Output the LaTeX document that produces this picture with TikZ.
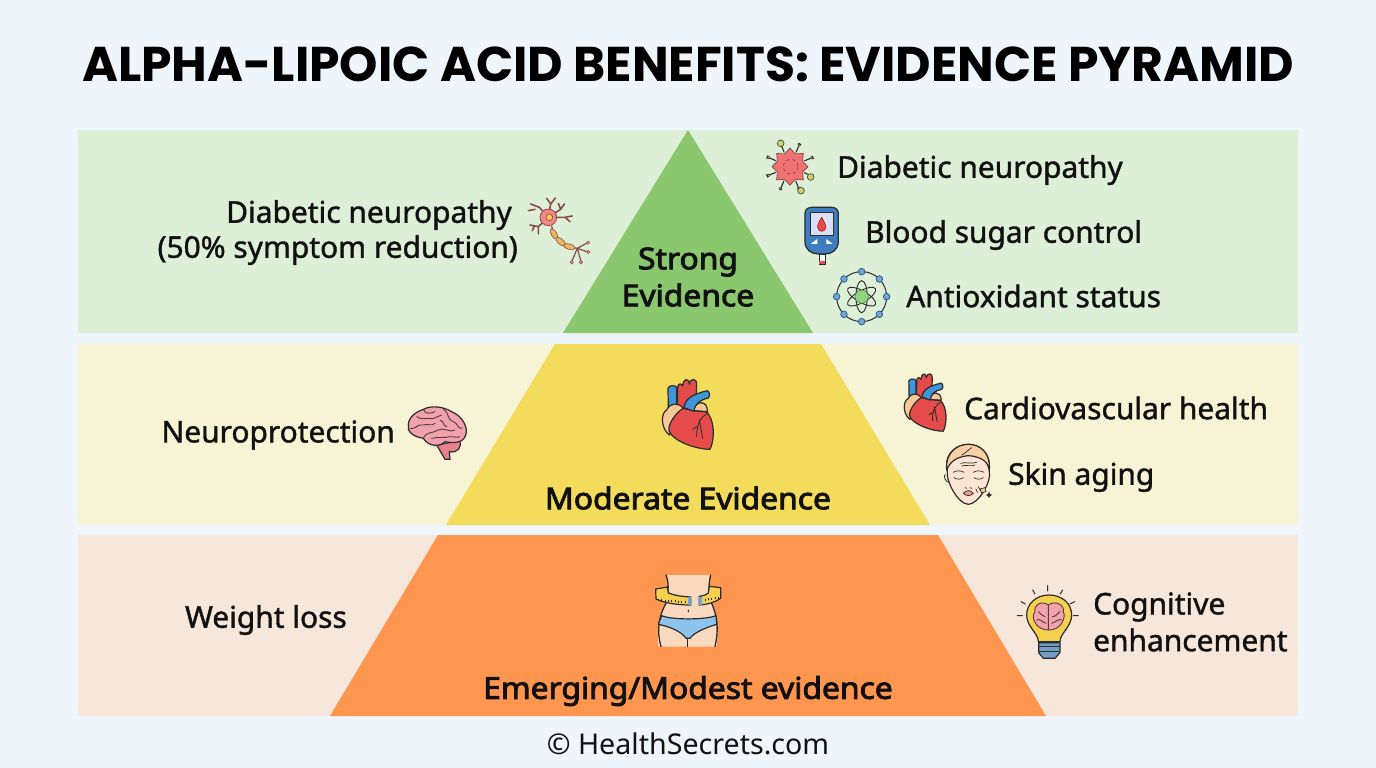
\documentclass[tikz,border=0pt]{standalone}
\usepackage{fontspec}
\setmainfont{Noto Sans}
\newfontfamily\medf[FakeBold=1.3]{Noto Sans}
\newfontfamily\tierf[FakeBold=3,FakeStretch=1.06]{Noto Sans}
\newfontfamily\titlef{Poppins}
\definecolor{pagebg}{HTML}{EEF5FB}
\definecolor{bandg}{HTML}{DDEFD6}
\definecolor{bandy}{HTML}{F6F4D4}
\definecolor{bandp}{HTML}{F7E6DA}
\definecolor{trig}{HTML}{8BC76F}
\definecolor{triy}{HTML}{F3DC5C}
\definecolor{trio}{HTML}{FF964F}
\definecolor{ink}{HTML}{111111}
\definecolor{icol}{HTML}{2B2B2B}
\definecolor{hred}{HTML}{E64B4B}
\definecolor{hblue}{HTML}{3F95D6}
\definecolor{hpeach}{HTML}{F8C796}
\definecolor{bpink}{HTML}{F2A2AC}
\definecolor{bdeep}{HTML}{E8808E}
\definecolor{skin}{HTML}{FBD9BF}
\definecolor{tapey}{HTML}{F5D04E}
\definecolor{pantb}{HTML}{8CC4EE}
\definecolor{cellr}{HTML}{F17272}
\definecolor{dotg}{HTML}{C9D36A}
\definecolor{nbrown}{HTML}{8A4A4A}
\definecolor{axon}{HTML}{EDB95C}
\definecolor{meter}{HTML}{3E7DBE}
\definecolor{atomb}{HTML}{6EA5D8}
\definecolor{atomg}{HTML}{8ED67A}
\tikzset{
  lbl/.style={font=\medf\fontsize{29.9}{34}\selectfont,text=ink,inner sep=0pt},
  tierlbl/.style={font=\tierf\fontsize{30}{34}\selectfont,text=ink,inner sep=0pt},
  ioutline/.style={draw=icol,line width=1.2pt,line join=round,line cap=round},
  zoomed/.style={x=0.3333pt,y=-0.3333pt}
}
\newcommand{\heartIcon}{%
  % coordinates in zoom units
  \draw[ioutline,fill=hred] (832,120) -- (833,52) .. controls (835,38) and (845,40) .. (848,48) .. controls (850,25) and (866,22) .. (868,42) .. controls (872,22) and (892,25) .. (890,45) -- (888,90) -- (860,120) -- cycle;
  \draw[ioutline,fill=hblue] (805,110) -- (804,55) .. controls (806,45) and (826,45) .. (830,52) -- (830,105) -- cycle;
  \draw[ioutline,fill=hpeach] (800,120) .. controls (782,130) and (782,175) .. (808,195) -- (850,115) .. controls (835,96) and (810,98) .. (800,120) -- cycle;
  \draw[ioutline,fill=hpeach] (880,122) .. controls (885,90) and (925,90) .. (922,125) -- cycle;
  \draw[ioutline,fill=hred] (850,115) .. controls (870,120) and (890,125) .. (918,125) .. controls (945,145) and (945,210) .. (930,238) .. controls (890,238) and (822,215) .. (808,185) .. controls (800,165) and (830,125) .. (850,115) -- cycle;
  \draw[ioutline,fill=hblue] (852,113) .. controls (855,85) and (880,72) .. (922,62) .. controls (930,65) and (930,80) .. (925,84) .. controls (900,90) and (885,100) .. (882,124) -- cycle;
  \draw[icol,line width=.8pt,line cap=round] (925,128) .. controls (905,140) and (890,155) .. (890,200) (898,150) -- (908,205) (890,170) -- (878,178);
}
\begin{document}
\begin{tikzpicture}[x=1pt,y=-1pt]
\useasboundingbox (0,0) rectangle (1376,768);
\fill[pagebg] (0,0) rectangle (1376,768);
% bands
\fill[bandg] (78,130) rectangle (1298,333);
\fill[bandy] (78,344) rectangle (1298,525);
\fill[bandp] (78,535) rectangle (1298,716);
% pyramid
\fill[trig] (688,130) -- (813,333) -- (563,333) -- cycle;
\fill[triy] (555,344) -- (821,344) -- (930,525) -- (446,525) -- cycle;
\fill[trio] (438,535) -- (938,535) -- (1046,716) -- (330,716) -- cycle;
% texts
\node[font=\titlef\bfseries\fontsize{48.8}{52}\selectfont,text=black,inner sep=0pt] (title) at (688,64) {ALPHA-LIPOIC ACID BENEFITS: EVIDENCE PYRAMID};
\node[lbl,anchor=east] (ldn1) at (512,215) {Diabetic neuropathy};
\node[lbl,anchor=east] (ldn2) at (518,250) {(50\% symptom reduction)};
\node[tierlbl] (se1) at (688,262) {Strong};
\node[tierlbl] (se2) at (688,295) {Evidence};
\node[lbl,anchor=west] (rdn) at (837,170) {Diabetic neuropathy};
\node[lbl,anchor=west] (rbs) at (865,235) {Blood sugar control};
\node[lbl,anchor=west] (ras) at (906,296) {Antioxidant status};
\node[lbl,anchor=east] (lnp) at (395,435) {Neuroprotection};
\node[tierlbl] (me) at (688,498) {Moderate Evidence};
\node[lbl,anchor=west] (rcv) at (964,408) {Cardiovascular health};
\node[lbl,anchor=west] (rsk) at (1008,477) {Skin aging};
\node[lbl,anchor=east] (lwl) at (347,620) {Weight loss};
\node[tierlbl] (ee) at (688,691) {Emerging/Modest evidence};
\node[lbl,anchor=west] (rce1) at (1093,607) {Cognitive};
\node[lbl,anchor=west] (rce2) at (1093,640) {enhancement};
\node[font=\fontsize{28.6}{32}\selectfont,text=ink,inner sep=0pt] (foot) at (688,744) {© HealthSecrets.com};
% ---- icons of the green tier (zoom 1 units)
\begin{scope}[shift={(520,130)},zoomed]
  % neuron
  \draw[nbrown,line width=1.6pt,line cap=round]
    (85,262) -- (58,232) (58,232) -- (32,222) (45,238) -- (25,242)
    (85,262) -- (92,222) (92,222) -- (80,205) (92,222) -- (106,204)
    (85,262) -- (122,238) (122,238) -- (115,220) (122,238) -- (133,222)
    (85,262) -- (135,262) (135,262) -- (157,258) (135,262) -- (150,275)
    (85,262) -- (55,290) (55,290) -- (30,285) (55,290) -- (55,312) (42,290) -- (37,302);
  \draw[nbrown,fill=cellr!85!white,line width=.8pt] (85,262) circle[radius=25];
  \draw[nbrown,fill=tapey,line width=.6pt] (88,262) circle[radius=10];
  \draw[nbrown,line width=1.2pt] (95,288) .. controls (100,320) and (130,350) .. (172,355);
  \foreach \a/\b/\r in {102/312/-60,122/335/-40,148/350/-15}{
    \draw[nbrown,fill=axon,line width=.6pt,rotate around={\r:(\a,\b)}] (\a,\b) ellipse[x radius=18,y radius=8];
  }
  \draw[nbrown,line width=1.2pt] (172,355) -- (203,338) (172,355) -- (203,366) (172,355) -- (183,395) (172,355) -- (155,395);
  \foreach \a/\b in {204/338,205/366,183/397,155/397}{
    \draw[nbrown,fill=bpink,line width=.6pt] (\a,\b) circle[radius=5];
  }
  % diseased cell
  \foreach \a in {0,45,...,315}{
    \draw[icol,line width=1.1pt,rotate around={\a+22:(810,110)}] (810,110) ++(46,0) -- ++(28,0) ++(0,-5) -- ++(0,10);
    \draw[icol,fill=dotg,line width=.5pt,rotate around={\a+22:(810,110)}] (810,110) ++(70,0) circle[radius=4];
  }
  \draw[icol!70!cellr,fill=cellr,line width=.6pt,line join=round] (864,110) -- (848,126) -- (850,150) -- (826,148) -- (810,166) -- (794,148) -- (770,150) -- (772,126) -- (756,110) -- (772,94) -- (770,70) -- (794,72) -- (810,54) -- (826,72) -- (850,70) -- (848,94) -- cycle;
  \draw[cellr!60!black,dashed,line width=.7pt] (812,110) circle[radius=22];
  \foreach \a/\b in {782/40,872/141,843/182}{
    \draw[icol!80!dotg,fill=dotg,line width=.7pt] (\a,\b) circle[radius=10];
  }
  % glucose meter
  \draw[ioutline,fill=meter] (855,250) .. controls (855,238) and (865,232) .. (875,232) -- (935,232) .. controls (948,232) and (955,240) .. (955,250) -- (955,335) .. controls (955,360) and (935,372) .. (915,372) -- (895,372) .. controls (875,372) and (855,360) .. (855,335) -- cycle;
  \draw[icol,fill=blue!8!white!90!meter,line width=.7pt] (870,248) rectangle (941,315);
  \draw[red!70!black,fill=hred,line width=.5pt] (905,262) .. controls (895,278) and (892,288) .. (893,292) .. controls (895,308) and (915,308) .. (918,292) .. controls (918,288) and (915,278) .. (905,262) -- cycle;
  \fill[white] (872,342) -- (892,327) -- (892,342) -- cycle;
  \fill[white] (919,327) -- (938,342) -- (919,342) -- cycle;
  \draw[icol,fill=white,line width=.7pt] (897,372) rectangle (915,402);
  \fill[hred] (898,392) rectangle (914,401);
  % atom
  \draw[icol,line width=1pt] (1025,500) circle[radius=75];
  \foreach \a in {0,45,...,315}{
    \draw[meter!70!black,fill=atomb,line width=.7pt] (1025,500) ++(\a:75) circle[radius=10];
  }
  \foreach \r in {30,90,150}{
    \draw[icol,line width=.9pt,rotate around={\r:(1025,500)}] (1025,500) ellipse[x radius=48,y radius=17];
  }
  \draw[icol!60!atomg,fill=atomg,line width=.5pt] (1025,500) circle[radius=20];
\end{scope}
% ---- brain and centre heart (zoom 2 units)
\begin{scope}[shift={(400,370)},zoomed]
  \draw[ioutline,fill=bdeep] (110,225) .. controls (125,250) and (130,260) .. (135,268) -- (150,268) -- (148,245) .. controls (175,250) and (185,230) .. (180,212) -- cycle;
  \draw[ioutline,fill=bpink] (70,205) .. controls (40,200) and (20,185) .. (25,165) .. controls (25,140) and (50,125) .. (70,118) .. controls (95,105) and (130,110) .. (155,125) .. controls (190,140) and (205,175) .. (197,195) .. controls (190,220) and (160,220) .. (135,215) .. controls (120,232) and (85,230) .. (70,205) -- cycle;
  \draw[icol!80!bdeep,line width=.9pt,line cap=round]
    (70,118) .. controls (75,135) and (95,130) .. (105,125)
    (50,140) .. controls (65,150) and (75,145) .. (85,145) .. controls (100,150) and (110,140) .. (125,135)
    (30,175) .. controls (45,180) and (55,160) .. (70,165) .. controls (85,160) and (95,170) .. (105,160)
    (70,205) .. controls (75,185) and (100,190) .. (115,180) .. controls (130,170) and (150,190) .. (165,180)
    (130,118) .. controls (150,130) and (140,150) .. (160,155) .. controls (175,160) and (170,175) .. (185,175)
    (120,150) .. controls (135,155) and (125,165) .. (140,170)
    (95,205) .. controls (115,200) and (130,205) .. (150,200) .. controls (160,198) and (170,205) .. (180,200);
  \heartIcon
\end{scope}
% ---- right heart
\begin{scope}[shift={(905,373)},x=0.2733pt,y=-0.2733pt]
  \begin{scope}[shift={(-790,-25)}]
  \heartIcon
  \end{scope}
\end{scope}
% ---- face (zoom 3 units)
\begin{scope}[shift={(890,365)},zoomed]
  \draw[ioutline,fill=skin!70!white] (172,320) .. controls (168,350) and (205,418) .. (235,418) .. controls (265,418) and (305,350) .. (298,320) -- (298,300) .. controls (298,265) and (270,238) .. (235,238) .. controls (200,238) and (168,265) .. (170,300) -- cycle;
  \draw[ioutline,fill=hpeach!85!white] (170,315) .. controls (165,265) and (200,238) .. (235,238) .. controls (272,238) and (302,265) .. (298,315) .. controls (295,295) and (280,275) .. (235,272) .. controls (195,275) and (178,295) .. (170,315) -- cycle;
  \draw[icol,line width=.7pt,line cap=round] (215,270) .. controls (225,265) and (235,255) .. (245,248);
  \draw[icol,line width=.7pt,line cap=round]
    (212,295) .. controls (225,290) and (245,298) .. (260,292)
    (215,303) .. controls (228,299) and (245,305) .. (255,300)
    (190,322) .. controls (200,316) and (212,316) .. (222,322)
    (250,322) .. controls (260,316) and (272,316) .. (282,322)
    (192,338) .. controls (200,344) and (212,344) .. (220,338)
    (252,338) .. controls (260,344) and (272,344) .. (280,338)
    (225,368) -- (230,370) (240,368) -- (246,370)
    (265,365) -- (272,378) (258,372) -- (262,382);
  \draw[icol,fill=hred!45!skin,line width=.7pt] (220,385) .. controls (230,374) and (240,374) .. (250,385) .. controls (240,394) and (230,394) .. (220,385) -- cycle;
  \draw[icol,fill=hpeach,line width=.7pt] (270,372) -- (285,368) -- (288,380) -- (275,384) -- cycle;
  \fill[icol] (297,380) -- (300,387) -- (307,390) -- (300,393) -- (297,400) -- (294,393) -- (287,390) -- (294,387) -- cycle;
  \draw[icol,line width=.8pt] (166,328) .. controls (160,332) and (165,350) .. (176,352);
\end{scope}
% ---- waist (zoom 4 units)
\begin{scope}[shift={(640,565)},zoomed]
  \fill[skin] (80,30) -- (210,30) .. controls (205,60) and (205,80) .. (215,110) .. controls (235,160) and (235,200) .. (230,245) -- (55,245) .. controls (50,200) and (55,155) .. (80,110) .. controls (85,80) and (88,55) .. (80,30) -- cycle;
  \draw[ioutline,line width=1.3pt] (78,30) .. controls (88,55) and (85,80) .. (78,115) .. controls (55,155) and (50,200) .. (63,245);
  \draw[ioutline,line width=1.3pt] (212,30) .. controls (205,60) and (205,80) .. (215,115) .. controls (235,160) and (235,200) .. (225,245);
  \draw[ioutline,fill=pantb] (65,152) .. controls (95,165) and (195,165) .. (228,152) -- (230,178) .. controls (190,190) and (160,205) .. (150,220) -- (138,220) .. controls (125,200) and (90,185) .. (55,178) -- cycle;
  \draw[ioutline] (143,220) -- (143,245);
  \fill[icol] (145,138) ellipse[x radius=2,y radius=5];
  \draw[ioutline,fill=tapey] (47,72) -- (82,66) -- (85,84) .. controls (105,92) and (130,95) .. (152,96) -- (152,120) .. controls (115,120) and (75,115) .. (48,102) -- cycle;
  \draw[ioutline,fill=tapey] (242,68) -- (208,64) -- (205,84) .. controls (200,90) and (190,92) .. (178,94) -- (178,120) .. controls (205,118) and (225,112) .. (242,100) -- cycle;
  \fill[atomb] (143,97) rectangle (152,119);
  \fill[atomb] (178,95) rectangle (186,119);
  \foreach \t in {55,65,...,135}{
    \draw[icol,line width=.5pt] (\t,{102+(\t-55)*0.08}) -- ++(0,6);
  }
  \foreach \t in {195,205,...,235}{
    \draw[icol,line width=.5pt] (\t,{108-(\t-195)*0.17}) -- ++(0,-6);
  }
\end{scope}
% ---- bulb (zoom 5 units)
\begin{scope}[shift={(1010,580)},zoomed]
  \draw[icol,line width=1pt,line cap=round] (113,17) -- (113,33) (68,30) -- (75,42) (158,30) -- (151,42) (33,65) -- (46,72) (194,65) -- (180,72) (22,107) -- (37,107) (190,107) -- (205,107);
  \draw[ioutline,fill=tapey] (85,185) .. controls (85,160) and (50,140) .. (50,105) .. controls (50,70) and (80,45) .. (117,45) .. controls (155,45) and (185,70) .. (185,105) .. controls (185,140) and (150,160) .. (150,185) -- cycle;
  \draw[ioutline,fill=atomb!80!gray] (86,188) -- (150,188) -- (150,218) -- (135,235) -- (100,235) -- (86,218) -- cycle;
  \draw[icol,line width=.9pt] (86,200) -- (150,200) (88,215) -- (148,215);
  \draw[icol!80!bdeep,fill=bpink,line width=.9pt] (115,75) .. controls (95,60) and (70,75) .. (75,95) .. controls (60,115) and (80,150) .. (115,150) .. controls (150,152) and (170,115) .. (160,95) .. controls (165,75) and (135,60) .. (115,75) -- cycle;
  \draw[icol!80!bdeep,line width=.9pt,line cap=round] (115,75) -- (115,150) (85,95) .. controls (95,100) and (95,110) .. (105,110) (80,120) .. controls (90,115) and (95,125) .. (108,130) (150,95) .. controls (140,100) and (140,110) .. (127,110) (155,120) .. controls (145,115) and (140,125) .. (125,130);
\end{scope}
\end{tikzpicture}
\end{document}
